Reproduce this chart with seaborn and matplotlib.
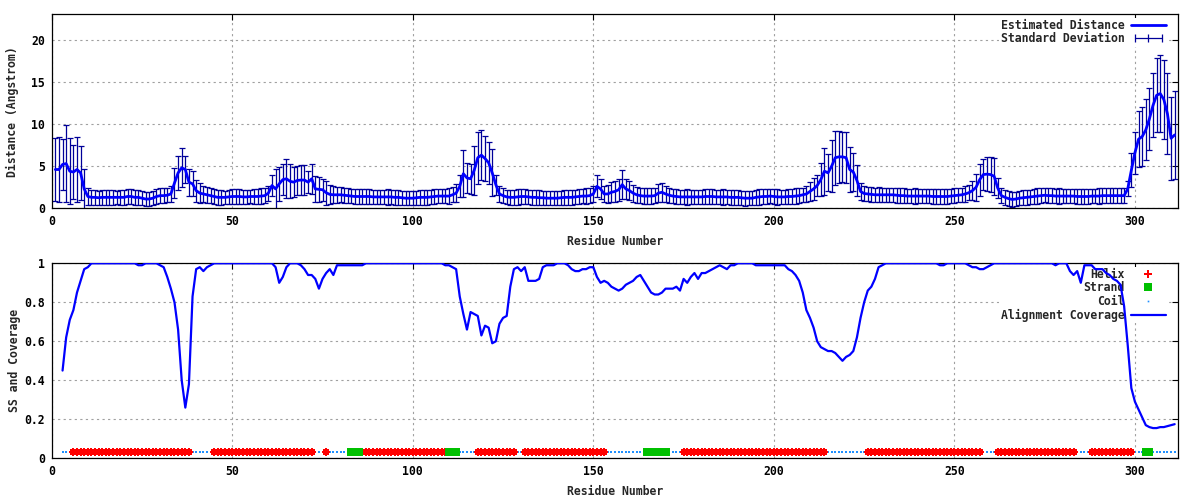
import numpy as np
import pandas as pd
import matplotlib
matplotlib.use("Agg")
import matplotlib.pyplot as plt
import seaborn as sns
from matplotlib.lines import Line2D
from matplotlib.legend_handler import HandlerLine2D

# ---------------- data ----------------
# residues 1..311 (top panel)
distance = [
    4.6, 4.6, 5.2, 5.3, 4.4, 4.3, 4.6, 4.2, 2.3, 1.4,
    1.3, 1.3, 1.25, 1.3, 1.3, 1.3, 1.3, 1.3, 1.3, 1.3,
    1.4, 1.4, 1.3, 1.3, 1.2, 1.1, 1.1, 1.2, 1.4, 1.5,
    1.5, 1.55, 1.7, 3.0, 4.2, 4.8, 4.6, 3.1, 2.9, 2.1,
    1.8, 1.7, 1.6, 1.5, 1.4, 1.3, 1.3, 1.3, 1.35, 1.4,
    1.4, 1.4, 1.35, 1.35, 1.4, 1.4, 1.4, 1.45, 1.5, 1.8,
    2.7, 2.3, 2.9, 3.4, 3.5, 3.2, 3.1, 3.3, 3.35, 3.35,
    3.1, 3.5, 2.3, 2.25, 2.2, 1.85, 1.65, 1.6, 1.6, 1.6,
    1.55, 1.5, 1.45, 1.4, 1.4, 1.4, 1.4, 1.4, 1.35, 1.35,
    1.35, 1.35, 1.35, 1.35, 1.3, 1.3, 1.25, 1.2, 1.2, 1.2,
    1.25, 1.3, 1.3, 1.3, 1.35, 1.4, 1.45, 1.45, 1.45, 1.45,
    1.6, 1.8, 2.6, 4.1, 3.6, 3.5, 4.5, 6.0, 6.3, 5.9,
    5.4, 4.2, 2.8, 1.7, 1.5, 1.35, 1.3, 1.3, 1.35, 1.4,
    1.4, 1.35, 1.3, 1.3, 1.25, 1.25, 1.2, 1.2, 1.2, 1.2,
    1.25, 1.3, 1.3, 1.3, 1.35, 1.4, 1.45, 1.45, 1.5, 1.7,
    2.6, 2.3, 1.7, 1.7, 1.9, 2.0, 2.2, 2.8, 2.3, 2.1,
    1.8, 1.6, 1.5, 1.45, 1.45, 1.45, 1.5, 1.8, 1.9, 1.7,
    1.55, 1.45, 1.4, 1.35, 1.35, 1.35, 1.35, 1.35, 1.35, 1.35,
    1.4, 1.4, 1.4, 1.35, 1.35, 1.35, 1.35, 1.3, 1.3, 1.3,
    1.25, 1.2, 1.2, 1.2, 1.3, 1.35, 1.4, 1.4, 1.45, 1.4,
    1.35, 1.35, 1.35, 1.4, 1.4, 1.45, 1.5, 1.6, 1.7, 2.0,
    2.3, 2.7, 3.4, 4.4, 4.2, 5.0, 6.0, 6.1, 6.1, 6.0,
    4.6, 4.3, 3.3, 2.0, 1.75, 1.7, 1.65, 1.6, 1.6, 1.6,
    1.6, 1.6, 1.6, 1.55, 1.5, 1.5, 1.45, 1.45, 1.45, 1.45,
    1.45, 1.45, 1.45, 1.4, 1.4, 1.4, 1.4, 1.4, 1.45, 1.5,
    1.55, 1.6, 1.7, 1.85, 2.1, 2.5, 3.4, 4.0, 4.05, 4.0,
    3.8, 2.4, 1.5, 1.3, 1.15, 1.05, 1.1, 1.2, 1.25, 1.3,
    1.35, 1.4, 1.45, 1.5, 1.55, 1.5, 1.5, 1.45, 1.45, 1.45,
    1.45, 1.45, 1.45, 1.4, 1.4, 1.4, 1.4, 1.45, 1.45, 1.45,
    1.5, 1.5, 1.5, 1.5, 1.5, 1.5, 1.5, 2.3, 4.5, 6.6,
    8.2, 8.5, 9.3, 10.6, 12.2, 13.4, 13.6, 12.9, 11.2, 8.3, 8.7,
]

std_dev = [
    3.7, 3.8, 3.0, 4.6, 3.9, 3.2, 3.9, 3.2, 2.4, 1.0,
    0.85, 0.9, 0.85, 0.85, 0.9, 0.85, 0.85, 0.8, 0.85, 0.85,
    0.85, 0.9, 0.85, 0.85, 0.8, 0.85, 0.85, 0.8, 0.85, 0.9,
    0.9, 0.85, 0.9, 1.8, 2.0, 2.3, 1.6, 1.6, 1.5, 1.3,
    1.2, 1.0, 0.95, 0.9, 0.85, 0.85, 0.85, 0.8, 0.85, 0.85,
    0.9, 0.85, 0.85, 0.85, 0.8, 0.85, 0.85, 0.9, 0.85, 0.9,
    1.3, 2.4, 2.0, 1.8, 2.3, 2.0, 1.8, 1.7, 1.75, 1.8,
    1.3, 1.8, 1.5, 1.5, 1.3, 1.4, 1.1, 1.0, 0.95, 0.9,
    0.9, 0.85, 0.85, 0.85, 0.9, 0.85, 0.85, 0.85, 0.8, 0.85,
    0.85, 0.85, 0.9, 0.85, 0.85, 0.85, 0.85, 0.8, 0.85, 0.85,
    0.85, 0.85, 0.9, 0.85, 0.85, 0.9, 0.85, 0.85, 0.85, 0.9,
    0.9, 1.1, 1.3, 2.8, 1.8, 1.8, 2.9, 3.1, 3.0, 2.7,
    2.5, 2.8, 1.2, 0.9, 0.85, 0.85, 0.85, 0.85, 0.9, 0.85,
    0.85, 0.85, 0.85, 0.85, 0.9, 0.85, 0.85, 0.85, 0.8, 0.85,
    0.85, 0.85, 0.85, 0.9, 0.85, 0.85, 0.85, 0.9, 0.85, 0.9,
    1.3, 1.2, 1.0, 1.1, 1.2, 1.2, 1.3, 1.7, 1.2, 1.1,
    1.0, 0.95, 0.9, 0.9, 0.9, 0.9, 0.9, 1.1, 1.1, 1.0,
    0.9, 0.85, 0.85, 0.85, 0.85, 0.9, 0.85, 0.85, 0.85, 0.85,
    0.9, 0.85, 0.85, 0.85, 0.85, 0.9, 0.85, 0.85, 0.85, 0.85,
    0.85, 0.9, 0.85, 0.85, 0.85, 0.9, 0.85, 0.85, 0.85, 0.85,
    0.9, 0.85, 0.85, 0.85, 0.85, 0.9, 0.85, 0.85, 0.9, 1.1,
    1.3, 1.2, 2.0, 2.8, 2.2, 3.1, 3.2, 3.1, 3.0, 3.0,
    2.7, 2.2, 1.8, 1.0, 0.9, 0.85, 0.85, 0.85, 0.9, 0.85,
    0.85, 0.85, 0.85, 0.9, 0.85, 0.85, 0.85, 0.85, 0.9, 0.85,
    0.85, 0.85, 0.85, 0.85, 0.9, 0.85, 0.85, 0.85, 0.85, 0.9,
    0.85, 0.85, 0.9, 0.9, 1.1, 1.6, 1.9, 1.8, 2.0, 2.1,
    2.2, 1.2, 0.9, 0.85, 0.85, 0.85, 0.85, 0.85, 0.9, 0.85,
    0.85, 0.85, 0.9, 0.85, 0.85, 0.85, 0.85, 0.85, 0.9, 0.85,
    0.85, 0.85, 0.85, 0.85, 0.9, 0.85, 0.85, 0.85, 0.85, 0.9,
    0.85, 0.85, 0.85, 0.85, 0.85, 0.9, 0.85, 0.9, 2.0, 2.5,
    3.3, 3.5, 3.6, 3.7, 3.8, 4.4, 4.6, 4.7, 4.8, 4.9, 5.2,
]

# residues 3..311 (bottom panel)
coverage = [
    0.45, 0.62, 0.71, 0.76, 0.85, 0.91, 0.97, 0.98,
    1.0, 1.0, 1.0, 1.0, 1.0, 1.0, 1.0, 1.0, 1.0, 1.0,
    1.0, 1.0, 1.0, 0.99, 0.99, 1.0, 1.0, 1.0, 1.0, 0.99,
    0.98, 0.93, 0.87, 0.80, 0.66, 0.40, 0.26, 0.38, 0.83, 0.97,
    0.98, 0.96, 0.98, 0.99, 1.0, 1.0, 1.0, 1.0, 1.0, 1.0,
    1.0, 1.0, 1.0, 1.0, 1.0, 1.0, 1.0, 1.0, 1.0, 1.0,
    1.0, 0.98, 0.90, 0.93, 0.98, 1.0, 1.0, 1.0, 0.99, 0.97,
    0.94, 0.94, 0.92, 0.87, 0.92, 0.95, 0.97, 0.94, 0.99, 0.99,
    0.99, 0.99, 0.99, 0.99, 0.99, 0.99, 1.0, 1.0, 1.0, 1.0,
    1.0, 1.0, 1.0, 1.0, 1.0, 1.0, 1.0, 1.0, 1.0, 1.0,
    1.0, 1.0, 1.0, 1.0, 1.0, 1.0, 1.0, 1.0, 0.99, 0.99,
    0.98, 0.97, 0.83, 0.74, 0.66, 0.75, 0.74, 0.73, 0.63, 0.68,
    0.67, 0.59, 0.60, 0.69, 0.72, 0.73, 0.88, 0.97, 0.98, 0.96,
    0.98, 0.91, 0.91, 0.91, 0.92, 0.98, 0.99, 0.99, 0.99, 1.0,
    1.0, 1.0, 0.99, 0.97, 0.96, 0.96, 0.97, 0.97, 0.98, 0.98,
    0.93, 0.90, 0.91, 0.90, 0.88, 0.87, 0.86, 0.87, 0.89, 0.90,
    0.91, 0.93, 0.94, 0.91, 0.88, 0.85, 0.84, 0.84, 0.85, 0.87,
    0.87, 0.87, 0.88, 0.86, 0.92, 0.90, 0.93, 0.95, 0.92, 0.95,
    0.95, 0.96, 0.97, 0.98, 0.99, 0.98, 0.97, 0.99, 0.99, 1.0,
    1.0, 1.0, 1.0, 1.0, 0.99, 0.99, 0.99, 0.99, 0.99, 0.99,
    0.99, 0.99, 0.99, 0.97, 0.96, 0.94, 0.91, 0.85, 0.76, 0.72,
    0.67, 0.60, 0.57, 0.56, 0.55, 0.55, 0.54, 0.52, 0.50, 0.52,
    0.53, 0.55, 0.62, 0.72, 0.80, 0.86, 0.88, 0.92, 0.98, 0.99,
    1.0, 1.0, 1.0, 1.0, 1.0, 1.0, 1.0, 1.0, 1.0, 1.0,
    1.0, 1.0, 1.0, 1.0, 1.0, 0.99, 0.99, 1.0, 1.0, 1.0,
    1.0, 1.0, 1.0, 0.99, 0.98, 0.98, 0.97, 0.97, 0.98, 0.99,
    1.0, 1.0, 1.0, 1.0, 1.0, 1.0, 1.0, 1.0, 1.0, 1.0,
    1.0, 1.0, 1.0, 1.0, 1.0, 1.0, 1.0, 0.99, 1.0, 1.0,
    1.0, 0.96, 0.94, 0.96, 0.90, 0.99, 0.99, 0.99, 0.97, 0.97,
    0.97, 0.95, 0.94, 0.92, 0.91, 0.89, 0.78, 0.58, 0.36, 0.29,
    0.25, 0.21, 0.17, 0.16, 0.155, 0.155, 0.16, 0.16, 0.165, 0.17, 0.175,
]

# secondary structure segments (H helix, E strand, C coil)
ss_type = ['C', 'H', 'C', 'H', 'C', 'H', 'C', 'E', 'H', 'E', 'C', 'H', 'C', 'H',
           'C', 'E', 'C', 'H', 'C', 'H', 'C', 'H', 'C', 'H', 'C', 'E', 'C']
ss_start = [3, 6, 39, 45, 73, 76, 77, 83, 86, 110, 113, 118, 129, 131,
            154, 165, 171, 175, 215, 226, 258, 262, 284, 288, 300, 303, 305]
ss_end = [5, 38, 44, 72, 75, 76, 82, 85, 109, 112, 117, 128, 130, 153,
          164, 170, 174, 214, 225, 257, 261, 283, 287, 299, 302, 304, 311]

x_ticks = [0, 50, 100, 150, 200, 250, 300]
dist_ticks = [0, 5, 10, 15, 20]
cov_ticks = [0, 0.2, 0.4, 0.6, 0.8, 1.0]
cov_tick_labels = ['0', '0.2', '0.4', '0.6', '0.8', '1']

assert len(distance) == 311 and len(std_dev) == 311 and len(coverage) == 309

res_top = np.arange(1, len(distance) + 1)
res_bot = np.arange(3, 3 + len(coverage))

ss_res, ss_lab = [], []
for t, a, b in zip(ss_type, ss_start, ss_end):
    for r in range(a, b + 1):
        ss_res.append(r)
        ss_lab.append(t)
ss_df = pd.DataFrame({"res": ss_res, "ss": ss_lab})
SS_LEVEL = 0.03

# ---------------- style ----------------
sns.set_theme(style="white")
FONT = ['DejaVu Sans Mono', 'DejaVu Sans']
plt.rcParams['font.family'] = FONT
plt.rcParams['font.weight'] = 'bold'
plt.rcParams['axes.labelweight'] = 'bold'
FS = 8.3

BLUE = '#0000ff'
NAVY = '#000099'
RED = '#ff0000'
GREEN = '#00c000'
COIL = '#2090ff'

fig = plt.figure(figsize=(12, 5), dpi=100)
ax1 = fig.add_axes([0.0431, 0.5834, 0.9388, 0.3880])
ax2 = fig.add_axes([0.0431, 0.0834, 0.9388, 0.3900])


def style_axis(ax, ylim, yticks, ylabels, ylabel, ypad):
    ax.set_xlim(0, 312)
    ax.set_ylim(*ylim)
    ax.set_xticks(x_ticks)
    ax.set_xticklabels([str(t) for t in x_ticks])
    ax.set_yticks(yticks)
    ax.set_yticklabels(ylabels)
    ax.tick_params(direction='in', length=4, width=0.8, top=True, right=True,
                   labeltop=False, labelright=False, labelsize=FS, pad=5,
                   colors='black')
    for lab in ax.get_xticklabels() + ax.get_yticklabels():
        lab.set_fontweight('bold')
    ax.grid(True, color='#a0a0a0', linestyle=(0, (2, 3)), linewidth=0.8)
    ax.set_axisbelow(True)
    for s in ax.spines.values():
        s.set_color('black')
        s.set_linewidth(0.9)
        s.set_visible(True)
    ax.set_xlabel('Residue Number', fontsize=FS, fontweight='bold', labelpad=5)
    ax.set_ylabel(ylabel, fontsize=FS, fontweight='bold', labelpad=ypad)


def make_legend(ax, handles, labels, handler_map=None):
    leg = ax.legend(handles, labels, loc='upper right',
                    bbox_to_anchor=(0.993, 1.0), markerfirst=False,
                    frameon=True, facecolor='white', edgecolor='none',
                    framealpha=1, fancybox=False, handlelength=3.0,
                    handletextpad=0.6, labelspacing=0.05, borderpad=0.1,
                    borderaxespad=0.3,
                    prop={'family': FONT, 'weight': 'bold', 'size': FS},
                    handler_map=handler_map)
    leg.set_zorder(2.5)
    return leg


# ---------- top panel ----------
ax1.errorbar(res_top, distance, yerr=std_dev, fmt='none', ecolor=NAVY,
             elinewidth=0.9, capsize=2.3, capthick=0.9, zorder=2)
sns.lineplot(x=res_top, y=distance, ax=ax1, color=BLUE, linewidth=2.0,
             zorder=3, legend=False)
style_axis(ax1, (0, 23), dist_ticks, [str(t) for t in dist_ticks],
           'Distance (Angstrom)', 9)

h_line = Line2D([], [], color=BLUE, lw=2.0)
h_err = Line2D([], [], color=NAVY, lw=0.9, marker='|', markersize=6,
               markeredgewidth=0.9)
make_legend(ax1, [h_line, h_err], ['Estimated Distance', 'Standard Deviation'],
            {h_err: HandlerLine2D(numpoints=3)})

# ---------- bottom panel ----------
coil_df = ss_df[ss_df.ss == 'C']
helix_df = ss_df[ss_df.ss == 'H']
strand_df = ss_df[ss_df.ss == 'E']
sns.scatterplot(x=coil_df.res, y=np.full(len(coil_df), SS_LEVEL), ax=ax2,
                marker='s', s=1.3, color=COIL, linewidth=0, legend=False, zorder=2)
sns.scatterplot(x=helix_df.res, y=np.full(len(helix_df), SS_LEVEL), ax=ax2,
                marker='s', s=14, color=RED, linewidth=0, legend=False, zorder=2)
sns.scatterplot(x=helix_df.res, y=np.full(len(helix_df), SS_LEVEL), ax=ax2,
                marker='P', s=36, color=RED, linewidth=0, legend=False, zorder=2)
sns.scatterplot(x=strand_df.res, y=np.full(len(strand_df), SS_LEVEL), ax=ax2,
                marker='s', s=27, color=GREEN, linewidth=0, legend=False, zorder=2)
sns.lineplot(x=res_bot, y=coverage, ax=ax2, color=BLUE, linewidth=1.6,
             zorder=3, legend=False)
style_axis(ax2, (0, 1), cov_ticks, cov_tick_labels, 'SS and Coverage', 2)

hh = Line2D([], [], ls='none', marker='P', color=RED, markersize=5.5,
            markeredgewidth=0)
hs = Line2D([], [], ls='none', marker='s', color=GREEN, markersize=5.2,
            markeredgewidth=0)
hc = Line2D([], [], ls='none', marker='s', color=COIL, markersize=1.2,
            markeredgewidth=0)
hl = Line2D([], [], color=BLUE, lw=1.6)
make_legend(ax2, [hh, hs, hc, hl], ['Helix', 'Strand', 'Coil', 'Alignment Coverage'])

fig.savefig('out.png', dpi=100)
